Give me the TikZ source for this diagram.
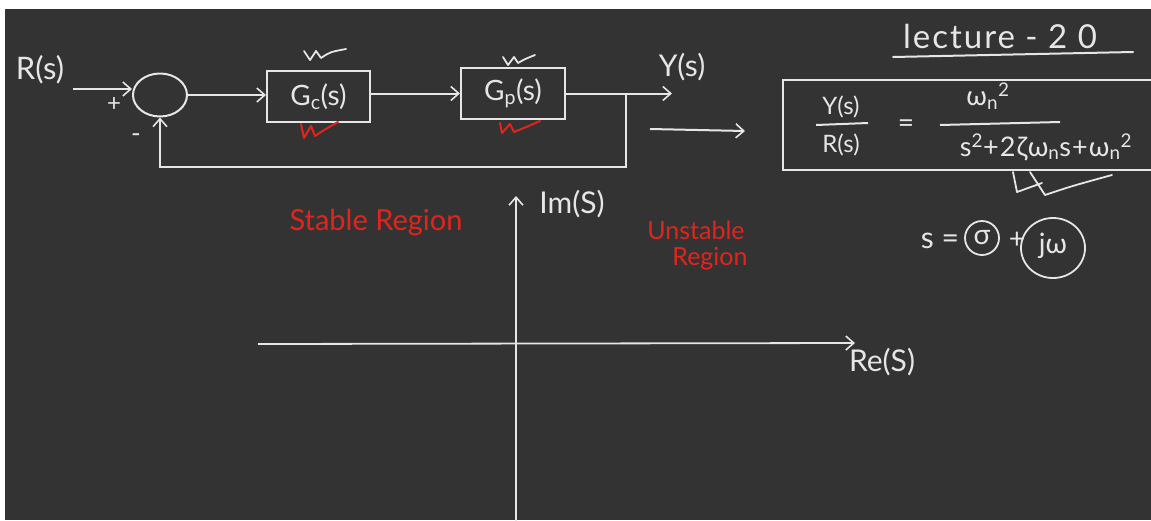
\documentclass[tikz,border=0pt]{standalone}
\usepackage{fontspec}
\setmainfont{Lato}
\usetikzlibrary{arrows.meta,shapes.geometric}
\definecolor{board}{HTML}{333333}
\definecolor{chalk}{HTML}{E6E6E6}
\definecolor{ink}{HTML}{E3241C}
\newcommand{\chalksize}[1]{\fontsize{#1}{#1}\selectfont}
\tikzset{
  wire/.style={draw=chalk, line width=2pt},
  arr/.style={wire, -{Straight Barb[length=8pt,width=14pt,line width=1.6pt]}},
  block/.style={draw=chalk, line width=2pt, rectangle, inner sep=0pt},
  hand/.style={text=chalk, font=\chalksize{28}, inner sep=0pt},
  redhand/.style={text=ink, font=\chalksize{28}, inner sep=0pt},
  tick/.style={draw=chalk, line width=1.8pt, line cap=round, line join=round},
  redtick/.style={draw=ink, line width=2pt, line cap=round, line join=round},
}
\begin{document}
\begin{tikzpicture}[x=1pt, y=-1pt]
  % page frame and board
  \useasboundingbox (0,0) rectangle (1151,520);
  \fill[white] (0,0) rectangle (1151,520);
  \fill[board] (5,9) rectangle (1151,520);
  \clip (5,9) rectangle (1151,520);

  % ---------- block diagram ----------
  \node[hand, font=\chalksize{31}] (rs) at (40,70) {R(s)};
  \coordinate (rin) at (73,89);
  \node[draw=chalk, line width=2pt, ellipse, minimum width=54pt, minimum height=43pt, inner sep=0pt] (sum) at (160,95) {};
  \node[hand, font=\chalksize{24}] (plus) at (114,104) {+};
  \node[hand, font=\chalksize{26}] (minus) at (136,138) {-};
  \node[block, minimum width=103pt, minimum height=51pt] (gc) at (318.5,96.5) {};
  \node[hand] (gctext) at (gc) {G\textsubscript{c}(s)};
  \node[block, minimum width=104pt, minimum height=51pt] (gp) at (513,93.5) {};
  \node[hand] (gptext) at (gp) {G\textsubscript{p}(s)};
  \coordinate (branch) at (626,93.5);
  \coordinate (yout) at (672,93.5);
  \coordinate (fbcorner) at (626,167);
  \node[hand, font=\chalksize{30}] (ys) at (682,67) {Y(s)};

  \draw[arr] (rin) -- (rin -| sum.west);
  \draw[arr] (sum.east) -- (gc.west |- sum.east);
  \draw[arr] (gc.east |- gp.west) -- (gp.west);
  \draw[arr] (gp.east) -- (yout);
  \draw[arr] (branch) -- (fbcorner) -| (sum.south);

  % check marks on the blocks
  \draw[tick] (304,51) -- (310,60) -- (316,51) -- (321,58) .. controls (330,52) .. (346,49);
  \draw[tick] (503,57) -- (508,65) -- (514,57) -- (518,63) .. controls (525,59) .. (535,55);
  \draw[redtick] (301,124) -- (304,138) -- (311,126) -- (315,136) .. controls (324,130) .. (338,122);
  \draw[redtick] (500,123) -- (502,133) -- (510,124) -- (514,132) .. controls (524,128) .. (540,121);

  % ---------- closed-loop transfer function ----------
  \coordinate (tfa) at (650,129);
  \coordinate (tfb) at (745,131);
  \draw[arr] (tfa) -- (tfb);
  \draw[wire] (1160,80) -- (783,80) -- (783,170) -- (1160,170);

  \node[hand, font=\chalksize{33}\addfontfeature{LetterSpace=6}] (title) at (1000,36) {lecture - 2 0};
  \draw[wire, line cap=round] (893,57) -- (1133,52);

  \node[hand, font=\chalksize{24}] (num1) at (841,107) {Y(s)};
  \node[hand, font=\chalksize{24}] (den1) at (841,145) {R(s)};
  \draw[wire] (816,125) -- (868,123);
  \node[hand] (eq) at (906,126) {=};
  \node[hand, font=\chalksize{27}] (num2) at (988,96) {ω\textsubscript{n}\textsuperscript{2}};
  \draw[wire] (940,125) -- (1060,122);
  \node[hand, font=\chalksize{27}\addfontfeature{LetterSpace=4}] (den2) at (1046,147) {s\textsuperscript{2}+2ζω\textsubscript{n}s+ω\textsubscript{n}\textsuperscript{2}};
  \draw[tick] (1013,172) -- (1017,192) -- (1042,183);
  \draw[tick] (1030,172) -- (1045,195) .. controls (1072,186) .. (1112,175);

  % ---------- s-plane ----------
  \coordinate (xl) at (258,344);
  \coordinate (xr) at (855,343);
  \coordinate (yb) at (516,525);
  \coordinate (yt) at (516,196);
  \draw[arr, line width=1.8pt] (xl) -- (xr);
  \draw[arr, line width=1.8pt] (yb) -- (yt);
  \node[hand, font=\chalksize{30}] (im) at (572,204) {Im(S)};
  \node[hand, font=\chalksize{30}] (re) at (882,362) {Re(S)};

  \node[redhand, font=\chalksize{29}] (stable) at (376,222) {Stable Region};
  \node[redhand, font=\chalksize{25}] (unstable1) at (696,230) {Unstable};
  \node[redhand, font=\chalksize{25}] (unstable2) at (710,259) {Region};

  \node[hand, font=\chalksize{30}] (sdef) at (940,241) {s =};
  \node[hand] (sigma) at (982,238) {σ};
  \draw[tick] (982,238) circle[x radius=17, y radius=17];
  \node[hand] (plus2) at (1017,240) {+};
  \node[hand] (jw) at (1053,246) {jω};
  \draw[tick] (1053,248) circle[x radius=32, y radius=30];
\end{tikzpicture}
\end{document}
